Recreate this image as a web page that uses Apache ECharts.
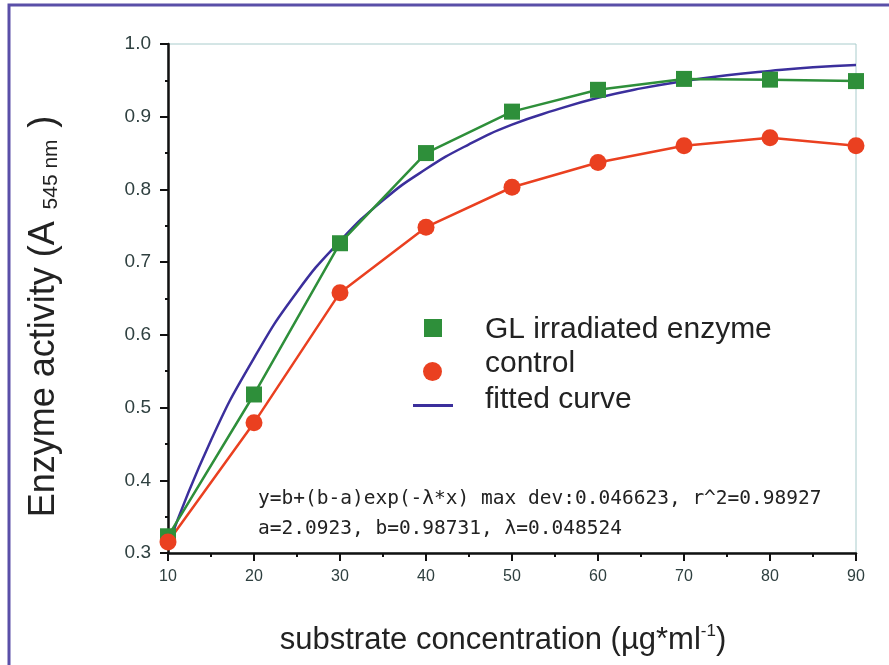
<!DOCTYPE html>
<html>
<head>
<meta charset="utf-8">
<script src="https://cdn.jsdelivr.net/npm/echarts@6/dist/echarts.min.js"></script>
<style>
  html, body { margin: 0; padding: 0; background: #fff; }
  #chart { width: 889px; height: 665px; }
</style>
</head>
<body>
<div id="chart"></div>
<script>
// 数据
const concentration = [10, 20, 30, 40, 50, 60, 70, 80, 90]
const irradiated = [0.323, 0.518, 0.726, 0.850, 0.907, 0.937, 0.952, 0.951, 0.949]
const control = [0.315, 0.479, 0.658, 0.748, 0.803, 0.837, 0.860, 0.871, 0.860]
const fitX = [10, 15, 20, 25, 30, 35, 40, 45, 50, 55, 60, 65, 70, 75, 80, 85, 90]
const fitY = [0.31, 0.455, 0.568, 0.659, 0.729, 0.785, 0.828, 0.862, 0.889, 0.909, 0.926, 0.939, 0.949, 0.957, 0.963, 0.968, 0.971]
const yTicks = { min: 0.3, max: 1.0, step: 0.1 }
const xTicks = { min: 10, max: 90, step: 10 }

const pair = (xs, ys) => xs.map((x, i) => [x, ys[i]])

const chart = echarts.init(document.getElementById('chart'))

const labelColor = '#2f4040'
const font = 'Liberation Sans, Arial, sans-serif'
const legendText = { fontSize: 30, fontFamily: font, color: '#222' }

// 图例：图标和文字分开放，方便对齐
function iconLegend(name, left, top, icon, w, h) {
  return {
    data: [name], left, top, padding: 0,
    icon, itemWidth: w, itemHeight: h,
    formatter: () => '',
    textStyle: { fontSize: 1 }
  }
}
function textLegend(name, top) {
  return {
    data: [name], left: 479, top, padding: 0,
    icon: 'rect', itemWidth: 1, itemHeight: 1,
    itemStyle: { opacity: 0 },
    textStyle: legendText
  }
}

const option = {
  animation: false,
  grid: {
    left: 168, right: 33, top: 44, bottom: 112,
    show: true,
    borderColor: '#a9cccc',
    borderWidth: 1
  },
  xAxis: {
    type: 'value',
    min: xTicks.min, max: xTicks.max, interval: xTicks.step,
    name: '{t|substrate concentration (\u00b5g*ml}{s|-1}{t|)}',
    nameLocation: 'middle',
    nameGap: 70,
    nameTextStyle: {
      padding: [0, 18, 0, 0],
      rich: {
        t: { fontSize: 31, fontFamily: font, color: '#222' },
        s: { fontSize: 17, fontFamily: font, color: '#222', padding: [0, 0, 18, 0] }
      }
    },
    axisLine: { lineStyle: { color: '#111', width: 2.5 } },
    axisTick: { length: 8, lineStyle: { color: '#111', width: 2 } },
    minorTick: { show: true, splitNumber: 2, length: 4, lineStyle: { color: '#111', width: 2 } },
    splitLine: { show: false },
    axisLabel: {
      fontSize: 16, fontFamily: font, color: labelColor, margin: 16
    }
  },
  yAxis: {
    type: 'value',
    min: yTicks.min, max: yTicks.max, interval: yTicks.step,
    name: '{t|Enzyme activity (A}{s|  545 nm  }{t|)}',
    nameLocation: 'middle',
    nameGap: 106,
    nameTextStyle: {
      padding: [0, 36, 0, 0],
      rich: {
        t: { fontSize: 36, fontFamily: font, color: '#222' },
        s: { fontSize: 21, fontFamily: font, color: '#222', padding: [14, 0, 0, 0] }
      }
    },
    axisLine: { lineStyle: { color: '#111', width: 2.5 } },
    axisTick: { length: 8, lineStyle: { color: '#111', width: 2 } },
    minorTick: { show: true, splitNumber: 2, length: 3, lineStyle: { color: '#111', width: 2 } },
    splitLine: { show: false },
    axisLabel: {
      fontSize: 19, fontFamily: font, color: labelColor, margin: 17,
      formatter: v => v.toFixed(1)
    }
  },
  legend: [
    iconLegend('GL irradiated enzyme', 424, 319, 'rect', 18, 18),
    iconLegend('control', 423, 362, 'circle', 19, 19),
    iconLegend('fitted curve', 413, 404, 'path://M0,0 H40 V3 H0 Z', 40, 3),
    textLegend('GL irradiated enzyme', 315),
    textLegend('control', 349),
    textLegend('fitted curve', 385)
  ],
  graphic: [
    {
      type: 'rect',
      shape: { x: 9, y: 5, width: 900, height: 700 },
      style: { fill: 'none', stroke: '#5a4fa8', lineWidth: 3 },
      silent: true
    },
    {
      type: 'text', left: 258, top: 489,
      style: {
        text: 'y=b+(b-a)exp(-\u03bb*x) max dev:0.046623, r^2=0.98927',
        font: '19.5px DejaVu Sans Mono, monospace', fill: '#222'
      }
    },
    {
      type: 'text', left: 258, top: 519,
      style: {
        text: 'a=2.0923, b=0.98731, \u03bb=0.048524',
        font: '19.5px DejaVu Sans Mono, monospace', fill: '#222'
      }
    }
  ],
  series: [
    {
      name: 'fitted curve',
      type: 'line',
      data: pair(fitX, fitY),
      smooth: true,
      showSymbol: false,
      z: 3,
      itemStyle: { color: '#3b2f9c' },
      lineStyle: { color: '#3b2f9c', width: 2.5 }
    },
    {
      name: 'GL irradiated enzyme',
      type: 'line',
      data: pair(concentration, irradiated),
      symbol: 'rect',
      symbolSize: 16,
      z: 4,
      itemStyle: { color: '#2e8f3a' },
      lineStyle: { color: '#2e8f3a', width: 2.5 }
    },
    {
      name: 'control',
      type: 'line',
      data: pair(concentration, control),
      symbol: 'circle',
      symbolSize: 17,
      z: 4,
      itemStyle: { color: '#ea4020' },
      lineStyle: { color: '#ea4020', width: 2.5 }
    }
  ]
}

chart.setOption(option)
</script>
</body>
</html>
